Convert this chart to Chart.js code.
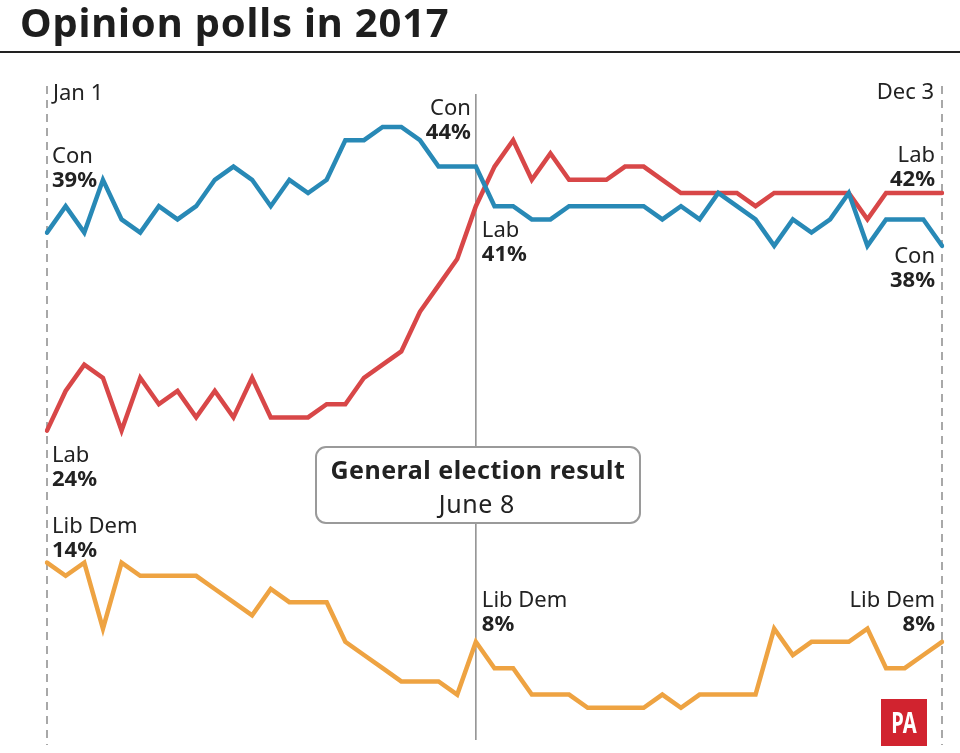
<!DOCTYPE html>
<html>
<head>
<meta charset="utf-8">
<script src="https://cdn.jsdelivr.net/npm/chart.js@4/dist/chart.umd.min.js"></script>
<style>
  body { margin: 0; background: #fff; }
  #wrap { position: relative; width: 960px; height: 753px; overflow: hidden; }
  h1 { position: absolute; left: 20px; top: 2px; margin: 0; font: bold 40px/1 'Noto Sans', sans-serif; color: #1e1e1e; letter-spacing: 0.8px; }
  #rule { position: absolute; left: 0; top: 51px; width: 960px; height: 2px; background: #222; }
  canvas { position: absolute; left: 0; top: 0; }
</style>
</head>
<body>
<div id="wrap">
  <canvas id="pollChart" width="960" height="753"></canvas>
  <h1>Opinion polls in 2017</h1>
  <div id="rule"></div>
</div>
<script>
// weekly poll readings, Jan 1 to Dec 3
const weeks = ['Jan 1','Jan 8','Jan 15','Jan 22','Jan 29','Feb 5','Feb 12','Feb 19','Feb 26',
  'Mar 5','Mar 12','Mar 19','Mar 26','Apr 2','Apr 9','Apr 16','Apr 23','Apr 30','May 7','May 14',
  'May 21','May 28','Jun 4','Jun 11','Jun 18','Jun 25','Jul 2','Jul 9','Jul 16','Jul 23','Jul 30',
  'Aug 6','Aug 13','Aug 20','Aug 27','Sep 3','Sep 10','Sep 17','Sep 24','Oct 1','Oct 8','Oct 15',
  'Oct 22','Oct 29','Nov 5','Nov 12','Nov 19','Nov 26','Dec 3'];

const conShare = [39,41,39,43,40,39,41,40,41,43, 44,43,41,43,42,43,46,46,47,47,
  46,44,44,44,41,41,40,40,41,41, 41,41,41,40,41,40,42,41,40,38, 40,39,40,42,38,40,40,40,38];
const labShare = [24,27,29,28,24,28,26,27,25,27, 25,28,25,25,25,26,26,28,29,30,
  33,35,37,41,44,46,43,45,43,43, 43,44,44,43,42,42,42,42,41,42, 42,42,42,42,40,42,42,42,42];
const libDemShare = [14,13,14,9,14,13,13,13,13,12, 11,10,12,11,11,11,8,7,6,5,
  5,5,4,8,6,6,4,4,4,3, 3,3,3,4,3,4,4,4,4,9, 7,8,8,8,9,6,6,7,8];

const electionIndex = 23;
const axisEnds = ['Jan 1', 'Dec 3'];
const boxTitle = 'General election result';
const boxDate = 'June 8';

const FONT = "'Noto Sans', sans-serif";
const INK = '#222222';

function seg(ctx, x1, y1, x2, y2) {
  ctx.beginPath(); ctx.moveTo(x1, y1); ctx.lineTo(x2, y2); ctx.stroke();
}

function tag(ctx, name, value, x, yPoint, nameOff, align) {
  ctx.textAlign = align;
  ctx.textBaseline = 'alphabetic';
  ctx.fillStyle = INK;
  ctx.font = '22px ' + FONT;
  ctx.fillText(name, x, yPoint + nameOff);
  ctx.font = 'bold 22px ' + FONT;
  ctx.fillText(value + '%', x, yPoint + nameOff + 24);
}

const overlay = {
  id: 'overlay',
  beforeDatasetsDraw(chart) {
    const { ctx, scales: { x } } = chart;
    ctx.save();
    ctx.strokeStyle = '#a8a8a8';
    ctx.lineWidth = 2;
    ctx.setLineDash([8, 6]);
    [0, weeks.length - 1].forEach(i => {
      const px = x.getPixelForValue(i);
      seg(ctx, px, 86, px, 745);
    });
    ctx.setLineDash([]);
    ctx.strokeStyle = '#8c8c8c';
    ctx.lineWidth = 1.5;
    const ex = x.getPixelForValue(electionIndex);
    seg(ctx, ex, 94, ex, 740);
    ctx.restore();
  },
  afterDatasetsDraw(chart) {
    const { ctx, scales: { x, y } } = chart;
    const last = weeks.length - 1;
    const x0 = x.getPixelForValue(0);
    const xN = x.getPixelForValue(last);
    const xE = x.getPixelForValue(electionIndex);
    ctx.save();

    // axis end labels
    ctx.fillStyle = INK;
    ctx.font = '22px ' + FONT;
    ctx.textAlign = 'left';
    ctx.fillText(axisEnds[0], x0 + 6, 100);
    ctx.textAlign = 'right';
    ctx.fillText(axisEnds[1], xN - 8, 99);

    // start labels
    tag(ctx, 'Con', conShare[0], x0 + 5, y.getPixelForValue(conShare[0]), -70, 'left');
    tag(ctx, 'Lab', labShare[0], x0 + 5, y.getPixelForValue(labShare[0]), 31, 'left');
    tag(ctx, 'Lib Dem', libDemShare[0], x0 + 5, y.getPixelForValue(libDemShare[0]), -30, 'left');

    // election labels
    tag(ctx, 'Con', conShare[electionIndex], xE - 5, y.getPixelForValue(conShare[electionIndex]), -52, 'right');
    tag(ctx, 'Lab', labShare[electionIndex], xE + 6, y.getPixelForValue(labShare[electionIndex]), 31, 'left');
    tag(ctx, 'Lib Dem', libDemShare[electionIndex], xE + 6, y.getPixelForValue(libDemShare[electionIndex]), -35, 'left');

    // end labels
    tag(ctx, 'Lab', labShare[last], xN - 7, y.getPixelForValue(labShare[last]), -31, 'right');
    tag(ctx, 'Con', conShare[last], xN - 7, y.getPixelForValue(conShare[last]), 17, 'right');
    tag(ctx, 'Lib Dem', libDemShare[last], xN - 7, y.getPixelForValue(libDemShare[last]), -35, 'right');

    // election box
    const bx = 316, by = 447, bw = 324, bh = 76;
    ctx.beginPath();
    ctx.roundRect(bx, by, bw, bh, 10);
    ctx.fillStyle = '#ffffff';
    ctx.fill();
    ctx.strokeStyle = '#9a9a9a';
    ctx.lineWidth = 2;
    ctx.stroke();
    ctx.fillStyle = INK;
    ctx.textAlign = 'center';
    ctx.letterSpacing = '0.5px';
    ctx.font = 'bold 25px ' + FONT;
    ctx.fillText(boxTitle, xE + 2, 479);
    ctx.letterSpacing = '0.6px';
    ctx.font = '25px ' + FONT;
    ctx.fillText(boxDate, xE + 1, 513);
    ctx.letterSpacing = '0px';

    // PA logo
    ctx.fillStyle = '#d1232f';
    ctx.fillRect(881, 699, 46, 47);
    ctx.fillStyle = '#ffffff';
    ctx.translate(904, 733);
    ctx.scale(0.72, 1);
    ctx.font = 'bold 28px ' + FONT;
    ctx.textAlign = 'center';
    ctx.fillText('PA', 0, 0);
    ctx.restore();
  }
};

const lineStyle = { borderWidth: 4.5, pointRadius: 0, tension: 0, borderJoinStyle: 'miter', borderCapStyle: 'round', fill: false };

new Chart(document.getElementById('pollChart'), {
  type: 'line',
  data: {
    labels: weeks,
    datasets: [
      { label: 'Con', data: conShare, borderColor: '#2889b6', ...lineStyle },
      { label: 'Lab', data: labShare, borderColor: '#d84748', ...lineStyle },
      { label: 'Lib Dem', data: libDemShare, borderColor: '#eea342', ...lineStyle }
    ]
  },
  options: {
    responsive: false,
    animation: false,
    layout: { padding: { left: 47, right: 18, top: 87.4, bottom: 5.6 } },
    plugins: { legend: { display: false }, tooltip: { enabled: false } },
    scales: {
      x: { display: false, offset: false },
      y: { display: false, min: 0, max: 50 }
    }
  },
  plugins: [overlay]
});
</script>
</body>
</html>
